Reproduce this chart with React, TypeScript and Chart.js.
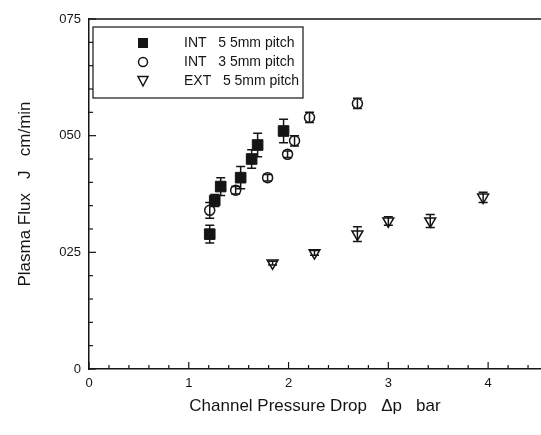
import React, { useEffect, useRef } from 'react';
import { Chart, registerables } from 'chart.js';

Chart.register(...registerables);

// INT 5.5 mm pitch (filled squares)
const int55X = [1.21, 1.26, 1.32, 1.52, 1.63, 1.69, 1.95];
const int55Y = [0.0289, 0.0361, 0.0391, 0.041, 0.045, 0.048, 0.051];
const int55Err = [0.0019, 0.0013, 0.0019, 0.0024, 0.002, 0.0025, 0.0025];

// INT 3.5 mm pitch (open circles)
const int35X = [1.21, 1.47, 1.79, 1.99, 2.06, 2.21, 2.69];
const int35Y = [0.034, 0.0383, 0.041, 0.046, 0.0489, 0.0539, 0.0569];
const int35Err = [0.0017, 0.0008, 0.0007, 0.0007, 0.0011, 0.0011, 0.0011];

// EXT 5.5 mm pitch (open inverted triangles)
const ext55X = [1.84, 2.26, 2.69, 3.0, 3.42, 3.95];
const ext55Y = [0.0227, 0.0249, 0.0289, 0.0317, 0.0317, 0.0368];
const ext55Err = [0.0004, 0.0005, 0.0016, 0.0009, 0.0014, 0.0011];

const legendLabels = ['INT   5 5mm pitch', 'INT   3 5mm pitch', 'EXT   5 5mm pitch'];
const xTickValues = [0, 1, 2, 3, 4];
const xTickLabels = ['0', '1', '2', '3', '4'];
const yTickValues = [0, 0.025, 0.05, 0.075];
const yTickLabels = ['0', '025', '050', '075'];
const xTitle = 'Channel Pressure Drop   \u0394p   bar';
const yTitle = 'Plasma Flux   J   cm/min';

const INK = '#151515';
const FONT = "'Liberation Sans', Arial, sans-serif";

const errs = [int55Err, int35Err, ext55Err];

const errorBarPlugin = {
  id: 'errorBars',
  afterDatasetsDraw(chart: any) {
    const ctx = chart.ctx;
    const xs = chart.scales.x;
    const ys = chart.scales.y;
    ctx.save();
    ctx.strokeStyle = INK;
    ctx.lineWidth = 1.5;
    chart.data.datasets.forEach((ds: any, di: number) => {
      ds.data.forEach((p: any, i: number) => {
        const e = errs[di][i];
        const px = xs.getPixelForValue(p.x);
        const t = ys.getPixelForValue(p.y + e);
        const b = ys.getPixelForValue(p.y - e);
        ctx.beginPath();
        ctx.moveTo(px, t);
        ctx.lineTo(px, b);
        ctx.moveTo(px - 4.5, t);
        ctx.lineTo(px + 4.5, t);
        ctx.moveTo(px - 4.5, b);
        ctx.lineTo(px + 4.5, b);
        ctx.stroke();
      });
    });
    ctx.restore();
  },
};

const framePlugin = {
  id: 'frame',
  afterDraw(chart: any) {
    const ctx = chart.ctx;
    const { left, right, top, bottom } = chart.chartArea;
    const xs = chart.scales.x;
    const ys = chart.scales.y;
    ctx.save();
    ctx.strokeStyle = INK;
    ctx.lineWidth = 1.5;
    // top frame line
    ctx.beginPath();
    ctx.moveTo(left, top);
    ctx.lineTo(right, top);
    ctx.stroke();
    // inward ticks on x
    ctx.lineWidth = 1.2;
    for (let i = 0; i <= 22; i++) {
      const v = i * 0.2;
      if (v > xs.max) break;
      const px = xs.getPixelForValue(v);
      const len = i % 5 === 0 ? 7 : 4;
      ctx.beginPath();
      ctx.moveTo(px, bottom);
      ctx.lineTo(px, bottom - len);
      ctx.stroke();
    }
    // inward ticks on y
    for (let i = 0; i <= 15; i++) {
      const v = i * 0.005;
      const py = ys.getPixelForValue(v);
      const len = i % 5 === 0 ? 7 : 4;
      ctx.beginPath();
      ctx.moveTo(left, py);
      ctx.lineTo(left + len, py);
      ctx.stroke();
    }
    // legend box
    const bx = left + 4;
    const by = top + 8;
    const bw = 210;
    const bh = 71;
    ctx.fillStyle = '#fff';
    ctx.fillRect(bx, by, bw, bh);
    ctx.lineWidth = 1.2;
    ctx.strokeRect(bx, by, bw, bh);
    const mx = bx + 50;
    const tx = bx + 91;
    ctx.font = `14px ${FONT}`;
    ctx.textBaseline = 'middle';
    ctx.textAlign = 'left';
    legendLabels.forEach((lab, i) => {
      const ry = by + 16 + i * 19;
      ctx.fillStyle = INK;
      ctx.strokeStyle = INK;
      ctx.lineWidth = 1.5;
      if (i === 0) {
        ctx.fillRect(mx - 5, ry - 5, 10, 10);
      } else if (i === 1) {
        ctx.beginPath();
        ctx.arc(mx, ry, 4.5, 0, Math.PI * 2);
        ctx.stroke();
      } else {
        ctx.beginPath();
        ctx.moveTo(mx - 5, ry - 4.5);
        ctx.lineTo(mx + 5, ry - 4.5);
        ctx.lineTo(mx, ry + 5);
        ctx.closePath();
        ctx.stroke();
      }
      ctx.fillText(lab, tx, ry);
    });
    ctx.restore();
  },
};

export default function App() {
  const ref = useRef<HTMLCanvasElement | null>(null);
  useEffect(() => {
    document.body.style.margin = '0';
    const canvas = ref.current;
    if (!canvas) return;
    const toPts = (xs: number[], ys: number[]) => xs.map((x, i) => ({ x, y: ys[i] }));
    const chart = new Chart(canvas, {
      type: 'scatter',
      data: {
        datasets: [
          {
            label: legendLabels[0],
            data: toPts(int55X, int55Y),
            pointStyle: 'rect',
            pointRadius: 7.5,
            backgroundColor: INK,
            borderColor: INK,
            borderWidth: 1,
          },
          {
            label: legendLabels[1],
            data: toPts(int35X, int35Y),
            pointStyle: 'circle',
            pointRadius: 5,
            backgroundColor: '#fff',
            borderColor: INK,
            borderWidth: 1.5,
          },
          {
            label: legendLabels[2],
            data: toPts(ext55X, ext55Y),
            pointStyle: 'triangle',
            rotation: 180,
            pointRadius: 6.3,
            backgroundColor: '#fff',
            borderColor: INK,
            borderWidth: 1.5,
          },
        ],
      },
      options: {
        responsive: false,
        animation: false,
        devicePixelRatio: 1,
        layout: { autoPadding: false, padding: { top: 19, right: 0, left: 0, bottom: 0 } },
        plugins: { legend: { display: false }, tooltip: { enabled: false } },
        scales: {
          x: {
            type: 'linear',
            min: 0,
            max: 4.53,
            grid: { display: false, drawTicks: false },
            border: { display: true, color: INK, width: 1.5 },
            afterBuildTicks: (s: any) => {
              s.ticks = xTickValues.map((v) => ({ value: v }));
            },
            afterFit: (s: any) => {
              s.height = 66;
              s.paddingRight = 0;
              s.paddingLeft = 0;
            },
            ticks: {
              padding: 7,
              color: INK,
              font: { family: FONT, size: 13 },
              maxRotation: 0,
              autoSkip: false,
              callback: (_v: any, i: number) => xTickLabels[i],
            },
            title: {
              display: true,
              text: xTitle,
              color: INK,
              font: { family: FONT, size: 17 },
              padding: { top: 0, bottom: 18 },
            },
          },
          y: {
            type: 'linear',
            min: 0,
            max: 0.075,
            grid: { display: false, drawTicks: false },
            border: { display: true, color: INK, width: 1.5 },
            afterBuildTicks: (s: any) => {
              s.ticks = yTickValues.map((v) => ({ value: v }));
            },
            afterFit: (s: any) => {
              s.width = 89;
              s.paddingTop = 0;
              s.paddingBottom = 0;
            },
            ticks: {
              padding: 8,
              color: INK,
              font: { family: FONT, size: 13 },
              autoSkip: false,
              callback: (_v: any, i: number) => yTickLabels[i],
            },
            title: {
              display: true,
              text: yTitle,
              color: INK,
              font: { family: FONT, size: 17 },
              padding: { top: 15, bottom: 0 },
            },
          },
        },
      },
      plugins: [errorBarPlugin, framePlugin],
    } as any);
    return () => chart.destroy();
  }, []);
  return (
    <div style={{ width: 541, height: 435, background: '#fff' }}>
      <canvas ref={ref} width={541} height={435} style={{ display: 'block' }} />
    </div>
  );
}
